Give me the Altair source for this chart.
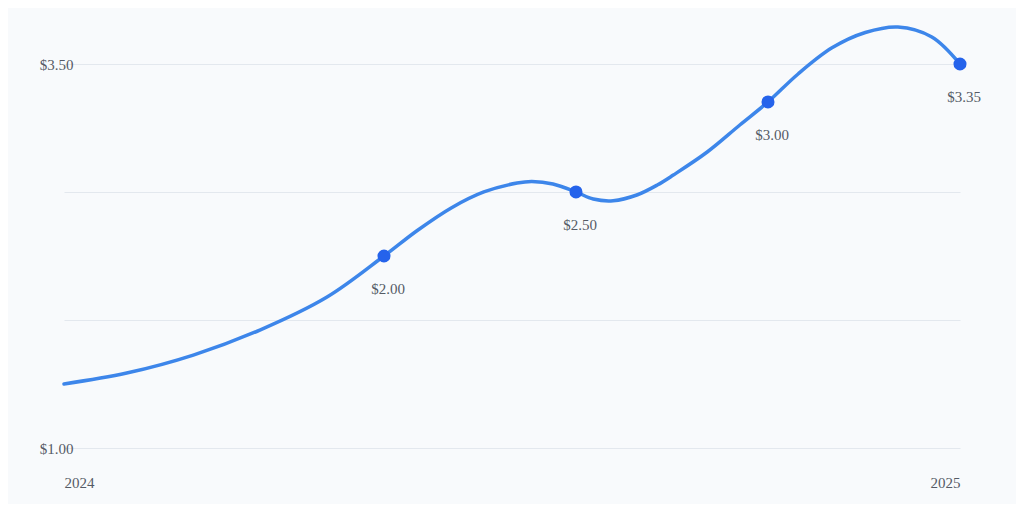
import altair as alt
import pandas as pd

# Smooth price curve (x: position along the year, y: dollars on the axis scale)
curve_x = [0, 0.98, 2.02, 3.06, 4.11, 5, 5.52, 6.05, 6.56, 7.08, 7.31, 7.64, 8,
           8.27, 8.58, 8.95, 9.27, 9.52, 10.05, 10.56, 11, 11.47, 12.0, 12.52, 13.03, 13.56, 14]
curve_y = [1.417, 1.488, 1.605, 1.768, 1.983, 2.25, 2.416, 2.563, 2.667, 2.725, 2.735, 2.719, 2.667,
           2.621, 2.61, 2.647, 2.712, 2.777, 2.927, 3.103, 3.253, 3.435, 3.605, 3.705, 3.741, 3.676, 3.5]

# Marked points and their labels
point_x = [5, 8, 11, 14]
point_y = [2.25, 2.667, 3.253, 3.5]
point_labels = ["$2.00", "$2.50", "$3.00", "$3.35"]

# Axes
y_ticks = [1.0, 1.8333, 2.6667, 3.5]
y_shown = [1.0, 3.5]
x_ticks = [0, 14]
x_tick_labels = ["2024", "2025"]

curve_df = pd.DataFrame({"x": curve_x, "y": curve_y})
points_df = pd.DataFrame({"x": point_x, "y": point_y, "label": point_labels})

FONT = "Liberation Serif"
LABEL_COLOR = "#555b66"

x_label_expr = " : ".join(
    [f"datum.value == {v} ? '{t}'" for v, t in zip(x_ticks[:-1], x_tick_labels[:-1])]
    + [f"'{x_tick_labels[-1]}'"]
)
y_label_expr = "(" + " || ".join([f"datum.value == {v}" for v in y_shown]) + ") ? datum.label : ''"

x_enc = alt.X(
    "x:Q",
    scale=alt.Scale(domain=[x_ticks[0], x_ticks[-1]], nice=False, zero=False),
    axis=alt.Axis(
        values=x_ticks,
        labelExpr=x_label_expr,
        title=None,
        grid=False,
        domain=False,
        ticks=False,
        labelFlush=True,
        labelPadding=39,
        labelBaseline="alphabetic",
        labelFont=FONT,
        labelFontSize=15,
        labelColor=LABEL_COLOR,
    ),
)
y_enc = alt.Y(
    "y:Q",
    scale=alt.Scale(domain=[y_ticks[0], y_ticks[-1]], nice=False, zero=False),
    axis=alt.Axis(
        values=y_ticks,
        format="$.2f",
        labelExpr=y_label_expr,
        title=None,
        grid=True,
        gridColor="#e3e8ee",
        gridWidth=1,
        domain=False,
        ticks=False,
        labelAlign="right",
        labelPadding=-9,
        labelFont=FONT,
        labelFontSize=15,
        labelColor=LABEL_COLOR,
    ),
)

line = alt.Chart(curve_df).mark_line(
    interpolate="catmull-rom", color="#3d86ea", strokeWidth=3.5, strokeCap="round"
).encode(x=x_enc, y=y_enc)

dots = alt.Chart(points_df).mark_circle(
    size=170, color="#2563eb", opacity=1
).encode(x="x:Q", y="y:Q")

labels = alt.Chart(points_df).mark_text(
    dx=4, dy=38, baseline="alphabetic", align="center",
    font=FONT, fontSize=15, color=LABEL_COLOR
).encode(x="x:Q", y="y:Q", text="label:N")

chart = alt.layer(line, dots, labels).properties(
    width=896,
    height=384,
    padding={"left": 56, "top": 56, "right": 56, "bottom": 56},
    autosize=alt.AutoSizeParams(type="none"),
    background="#f8fafc",
).configure_view(stroke=None)

chart.save("out.html", embed_options={"renderer": "svg", "actions": False})
